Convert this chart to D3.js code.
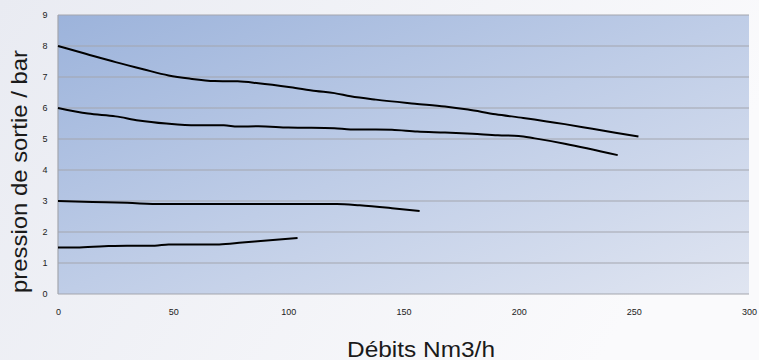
<!DOCTYPE html>
<html>
<head>
<meta charset="utf-8">
<script src="https://cdn.jsdelivr.net/npm/d3@7"></script>
<style>
  html, body { margin: 0; padding: 0; }
  body { width: 759px; height: 360px; overflow: hidden; }
  .tick text { font-family: "Liberation Sans", Arial, sans-serif; font-size: 9px; fill: #222; }
</style>
</head>
<body>
<div class="graph"></div>
<script>
// pression de sortie (bar) vs débit (Nm3/h), one pair of arrays per curve
const flow8 = [0, 12, 25, 37, 48, 57, 68, 78, 87, 101, 112, 120, 127, 138, 155, 168, 178, 190, 202, 220, 232, 252]
const press8 = [8.0, 7.75, 7.48, 7.25, 7.05, 6.95, 6.87, 6.86, 6.8, 6.67, 6.55, 6.48, 6.38, 6.27, 6.14, 6.05, 5.95, 5.8, 5.68, 5.48, 5.33, 5.08]

const flow6 = [0, 13, 25, 35, 47, 60, 72, 78, 87, 100, 120, 127, 138, 145, 156, 168, 180, 191, 200, 207, 220, 243]
const press6 = [6.0, 5.82, 5.73, 5.6, 5.5, 5.44, 5.44, 5.4, 5.41, 5.37, 5.35, 5.31, 5.31, 5.3, 5.24, 5.21, 5.17, 5.12, 5.1, 5.02, 4.85, 4.48]

const flow3 = [0, 15, 30, 45, 60, 80, 100, 121, 131, 145, 157]
const press3 = [3.0, 2.97, 2.94, 2.9, 2.9, 2.9, 2.9, 2.9, 2.86, 2.77, 2.68]

const flow15 = [0, 8, 20, 30, 42, 48, 60, 70, 80, 88, 104]
const press15 = [1.5, 1.5, 1.54, 1.56, 1.56, 1.6, 1.6, 1.6, 1.66, 1.71, 1.81]

const xTicks = [0, 50, 100, 150, 200, 250, 300]
const yTicks = [0, 1, 2, 3, 4, 5, 6, 7, 8, 9]

const series = [
    [flow8, press8],
    [flow6, press6],
    [flow3, press3],
    [flow15, press15]
].map(([xs, ys]) => xs.map((x, i) => ({ x: x, y: ys[i] })))

const dim = { w: 759, h: 360, left: 58, right: 749, top: 15, bottom: 294 }

const svg = d3.select('.graph')
    .append('svg')
    .attr('width', dim.w)
    .attr('height', dim.h)

const defs = svg.append('defs')
const bg = defs.append('linearGradient').attr('id', 'bg')
    .attr('x1', 0).attr('y1', 0).attr('x2', 1).attr('y2', 0.3)
bg.append('stop').attr('offset', 0).attr('stop-color', '#e9ebf2')
bg.append('stop').attr('offset', 1).attr('stop-color', '#fafafc')

const plotBg = defs.append('linearGradient').attr('id', 'plotBg')
    .attr('x1', 0).attr('y1', 0).attr('x2', 1).attr('y2', 1)
plotBg.append('stop').attr('offset', 0).attr('stop-color', 'rgb(156,179,219)')
plotBg.append('stop').attr('offset', 0.5).attr('stop-color', 'rgb(191,205,231)')
plotBg.append('stop').attr('offset', 1).attr('stop-color', 'rgb(224,229,241)')

svg.append('rect').attr('width', dim.w).attr('height', dim.h).attr('fill', 'url(#bg)')

const xScale = d3.scaleLinear()
    .domain([0, 300])
    .range([dim.left, dim.right])

const yScale = d3.scaleLinear()
    .domain([0, 9])
    .range([dim.bottom, dim.top])

svg.append('rect')
    .attr('x', xScale(0))
    .attr('y', yScale(9))
    .attr('width', xScale(300) - xScale(0))
    .attr('height', yScale(0) - yScale(9))
    .attr('fill', 'url(#plotBg)')

// gridlines
svg.append('g')
    .selectAll('line')
    .data(yTicks)
    .enter()
    .append('line')
    .attr('x1', xScale(0))
    .attr('x2', xScale(300))
    .attr('y1', d => yScale(d))
    .attr('y2', d => yScale(d))
    .attr('stroke', '#a3a6ad')
    .attr('stroke-width', 1.2)

svg.append('line')
    .attr('x1', xScale(0)).attr('x2', xScale(0))
    .attr('y1', yScale(0)).attr('y2', yScale(9))
    .attr('stroke', '#a3a6ad')
    .attr('stroke-width', 1.2)

const xAxis = d3.axisBottom(xScale).tickValues(xTicks).tickSize(0).tickPadding(15)
svg.append('g')
    .attr('transform', `translate(0,${dim.bottom})`)
    .call(xAxis)
    .call(g => g.select('.domain').remove())

const yAxis = d3.axisLeft(yScale).tickValues(yTicks).tickSize(0).tickPadding(10.5)
svg.append('g')
    .attr('transform', `translate(${dim.left},0)`)
    .call(yAxis)
    .call(g => g.select('.domain').remove())

const line = d3.line()
    .x(d => xScale(d.x))
    .y(d => yScale(d.y))
    .curve(d3.curveMonotoneX)

svg.append('g')
    .selectAll('path')
    .data(series)
    .enter()
    .append('path')
    .attr('d', line)
    .attr('fill', 'none')
    .attr('stroke', '#000')
    .attr('stroke-width', 2)

// axis titles
svg.append('text')
    .attr('x', 421)
    .attr('y', 356.5)
    .attr('text-anchor', 'middle')
    .attr('textLength', 148)
    .attr('lengthAdjust', 'spacingAndGlyphs')
    .style('font-family', '"Liberation Sans", Arial, sans-serif')
    .style('font-size', '22px')
    .style('fill', '#1a1a1a')
    .text('Débits Nm3/h')

svg.append('text')
    .attr('transform', 'translate(26.5,171.5) rotate(-90)')
    .attr('text-anchor', 'middle')
    .attr('textLength', 243)
    .attr('lengthAdjust', 'spacingAndGlyphs')
    .style('font-family', '"Liberation Sans", Arial, sans-serif')
    .style('font-size', '22px')
    .style('fill', '#1a1a1a')
    .text('pression de sortie / bar')
</script>
</body>
</html>
